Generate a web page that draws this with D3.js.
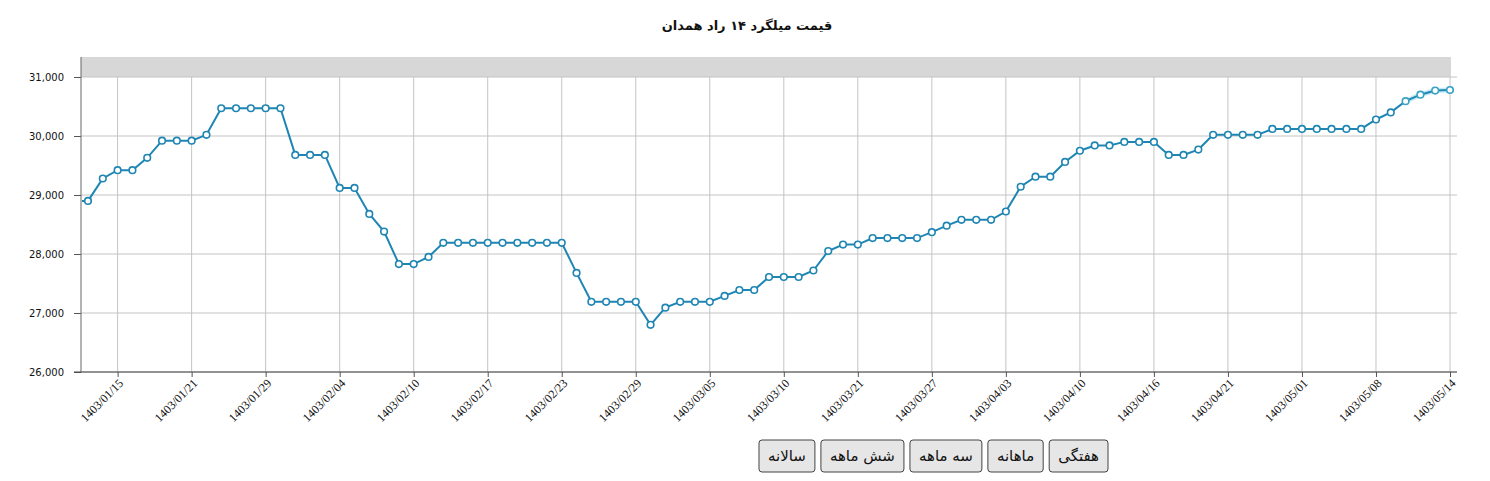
<!DOCTYPE html>
<html>
<head>
<meta charset="utf-8">
<script src="https://cdn.jsdelivr.net/npm/d3@7/dist/d3.min.js"></script>
<style>
  body { margin: 0; background: #fff; }
  svg { display: block; }
</style>
</head>
<body>
<svg id="chart" width="1490" height="481"></svg>
<script>
// title and range buttons
var title = 'قیمت میلگرد ۱۴ راد همدان';
var buttonLabels = ['هفتگی', 'ماهانه', 'سه ماهه', 'شش ماهه', 'سالانه'];

// daily price, the first one sits just off the left edge of the window
var prices = [
	28900,
	28900, 29280, 29420, 29420, 29630, 29920, 29920, 29920, 30020, 30470,
	30470, 30470, 30470, 30470, 29680, 29680, 29680, 29120, 29120, 28680,
	28380, 27830, 27830, 27950, 28190, 28190, 28190, 28190, 28190, 28190,
	28190, 28190, 28190, 27680, 27190, 27190, 27190, 27190, 26800, 27090,
	27190, 27190, 27190, 27290, 27390, 27390, 27610, 27610, 27610, 27720,
	28050, 28160, 28160, 28270, 28270, 28270, 28270, 28370, 28480, 28580,
	28580, 28580, 28720, 29140, 29310, 29310, 29560, 29750, 29840, 29840,
	29900, 29900, 29900, 29680, 29680, 29770, 30020, 30020, 30020, 30020,
	30120, 30120, 30120, 30120, 30120, 30120, 30120, 30280, 30400, 30590,
	30700, 30770, 30780
];

// x axis labels, one every fifth point
var tickLabels = ['1403/01/15', '1403/01/21', '1403/01/29', '1403/02/04', '1403/02/10',
	'1403/02/17', '1403/02/23', '1403/02/29', '1403/03/05', '1403/03/10', '1403/03/21',
	'1403/03/27', '1403/04/03', '1403/04/10', '1403/04/16', '1403/04/21', '1403/05/01',
	'1403/05/08', '1403/05/14'];
var tickIndex = tickLabels.map(function(d, i) { return 3 + i * 5 });

var yTicks = [26000, 27000, 28000, 29000, 30000, 31000];

function drawChart() {

	var pLeft = 81, pRight = 1457, pTop = 77, pBottom = 372, stripTop = 57;

	var svg = d3.select('#chart');

	var x = d3.scaleLinear()
		.domain([1, prices.length - 1])
		.range([88, 1450]);

	var y = d3.scaleLinear()
		.domain([26000, 31000])
		.range([pBottom, pTop]);

	svg.append('text')
		.attr('x', 747)
		.attr('y', 30)
		.attr('text-anchor', 'middle')
		.attr('direction', 'rtl')
		.style('font-family', 'DejaVu Sans, sans-serif')
		.style('font-weight', 'bold')
		.style('font-size', '13px')
		.style('fill', '#111')
		.text(title);

	// grey navigator strip above the plot
	svg.append('rect')
		.attr('x', pLeft)
		.attr('y', stripTop)
		.attr('width', 1451 - pLeft)
		.attr('height', pTop - stripTop)
		.attr('fill', '#d7d7d7');

	// grid
	svg.append('g')
		.selectAll('line')
		.data(yTicks)
		.enter().append('line')
		.attr('x1', pLeft)
		.attr('x2', pRight)
		.attr('y1', d => y(d))
		.attr('y2', d => y(d))
		.attr('stroke', '#c4c4c4')
		.attr('stroke-width', 1);

	svg.append('g')
		.selectAll('line')
		.data(tickIndex)
		.enter().append('line')
		.attr('x1', d => x(d))
		.attr('x2', d => x(d))
		.attr('y1', pTop)
		.attr('y2', pBottom)
		.attr('stroke', '#c4c4c4')
		.attr('stroke-width', 1);

	// axes
	var yAxis = svg.append('g')
		.attr('transform', 'translate(' + pLeft + ',0)')
		.call(d3.axisLeft(y).tickValues(yTicks).tickSize(7).tickSizeOuter(0).tickPadding(10)
			.tickFormat(d3.format(',')));
	yAxis.select('.domain').remove();
	yAxis.selectAll('line').attr('stroke', '#555');
	yAxis.selectAll('text')
		.style('font-family', 'DejaVu Sans, sans-serif')
		.style('font-size', '10px')
		.style('fill', '#111');

	svg.append('line')
		.attr('x1', pLeft)
		.attr('x2', pLeft)
		.attr('y1', stripTop)
		.attr('y2', pBottom)
		.attr('stroke', '#666');

	var xAxis = svg.append('g')
		.attr('transform', 'translate(0,' + pBottom + ')')
		.call(d3.axisBottom(x).tickValues(tickIndex).tickSize(5).tickSizeOuter(0)
			.tickFormat((d, i) => tickLabels[i]));
	xAxis.select('.domain').remove();
	xAxis.selectAll('line').attr('stroke', '#555');
	xAxis.selectAll('text')
		.attr('text-anchor', 'end')
		.attr('dx', 0)
		.attr('dy', 0)
		.attr('y', 0)
		.attr('transform', 'translate(6,12) rotate(-45)')
		.style('font-family', 'Liberation Serif, serif')
		.style('font-size', '12px')
		.style('fill', '#111');

	svg.append('line')
		.attr('x1', 74)
		.attr('x2', pRight)
		.attr('y1', pBottom)
		.attr('y2', pBottom)
		.attr('stroke', '#444');

	// price line
	svg.append('clipPath')
		.attr('id', 'plotclip')
		.append('rect')
		.attr('x', pLeft + 1)
		.attr('y', stripTop)
		.attr('width', pRight - pLeft)
		.attr('height', pBottom - stripTop);

	var line = d3.line()
		.x((d, i) => x(i))
		.y(d => y(d));

	var plot = svg.append('g').attr('clip-path', 'url(#plotclip)');

	// highlighted tail of the series
	plot.append('path')
		.datum(prices)
		.attr('d', d3.line().defined((d, i) => i >= 90).x((d, i) => x(i)).y(d => y(d)))
		.attr('fill', 'none')
		.attr('stroke', '#c6eaf5')
		.attr('stroke-width', 5);

	plot.append('path')
		.datum(prices)
		.attr('d', line)
		.attr('fill', 'none')
		.attr('stroke', '#1f86b3')
		.attr('stroke-width', 2);

	plot.selectAll('.dot')
		.data(prices)
		.enter().append('circle')
		.attr('class', 'dot')
		.attr('cx', (d, i) => x(i))
		.attr('cy', d => y(d))
		.attr('r', 3.3)
		.attr('fill', '#fff')
		.attr('stroke', (d, i) => i >= 90 ? '#3aa3c4' : '#1f86b3')
		.attr('stroke-width', 1.6);

	// range buttons, laid out right to left
	var btns = svg.append('g');
	var bx = 1108;
	buttonLabels.forEach(function(label) {
		var g = btns.append('g');
		var rect = g.append('rect');
		var t = g.append('text')
			.attr('direction', 'rtl')
			.attr('text-anchor', 'middle')
			.attr('y', 461)
			.style('font-family', 'DejaVu Sans, sans-serif')
			.style('font-size', '15px')
			.style('fill', '#111')
			.text(label);
		var w = t.node().getComputedTextLength() + 18;
		rect.attr('x', bx - w)
			.attr('y', 440)
			.attr('width', w)
			.attr('height', 32)
			.attr('rx', 3)
			.attr('fill', '#e6e6e6')
			.attr('stroke', '#444')
			.attr('stroke-width', 1);
		t.attr('x', bx - w / 2);
		bx = bx - w - 6;
	});
}

drawChart();
</script>
</body>
</html>
